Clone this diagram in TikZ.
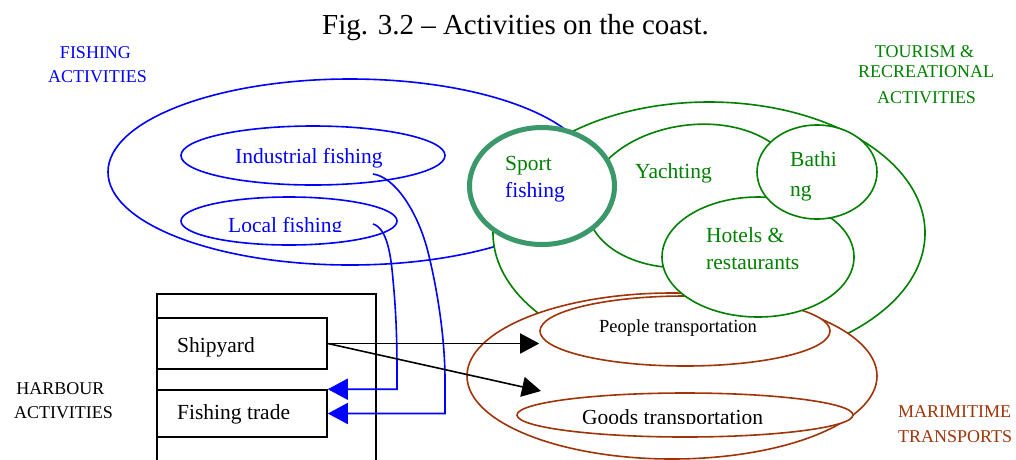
\documentclass[tikz,border=0pt]{standalone}
\usepackage{fontspec}
\setmainfont{Liberation Serif}
\usetikzlibrary{shapes.geometric,arrows.meta,calc}
\definecolor{fishblue}{RGB}{0,0,255}
\definecolor{tourgreen}{RGB}{0,128,0}
\definecolor{sportgreen}{RGB}{58,152,106}
\definecolor{seabrown}{RGB}{160,52,8}
\newcommand\sztitle{\fontsize{29}{32}\selectfont}
\newcommand\szbody{\fontsize{21.5}{24}\selectfont}
\newcommand\szsmall{\fontsize{18.5}{21}\selectfont}
\newcommand\szgroup{\fontsize{18}{21}\selectfont}
\begin{document}
\begin{tikzpicture}[x=1pt,y=-1pt,
  oval/.style={ellipse, draw, inner sep=0pt, line width=1.6pt},
  fishoval/.style={oval, draw=fishblue},
  touroval/.style={oval, draw=tourgreen, fill=white},
  seaoval/.style={oval, draw=seabrown, fill=white},
  sportoval/.style={ellipse, draw=sportgreen, fill=white, inner sep=0pt, line width=5pt},
  harbourbox/.style={draw, line width=1.6pt, minimum width=170, inner sep=0pt},
  txt/.style={inner sep=0pt, anchor=base west, font=\szbody},
  grouptxt/.style={inner sep=0pt, anchor=base, font=\szgroup},
  fisharrow/.style={draw=fishblue, line width=1.6pt, -{Triangle[length=20pt,width=21pt]}},
  blackarrow/.style={draw=black, line width=1.6pt, -{Triangle[length=19pt,width=20pt]}}]
\useasboundingbox (0,0) rectangle (1016,459);

% title
\node[inner sep=0pt, anchor=base, font=\sztitle] (title) at (515.5,34)
  {Fig. 3.2 -- Activities on the coast.};

% fishing activities
\node[fishoval, minimum width=484, minimum height=186] (fishing) at (350,172) {};
\node[fishoval, minimum width=264, minimum height=59] (ind) at (313,155.5) {};
\node[fishoval, minimum width=216, minimum height=48] (loc) at (289,221) {};
\node[txt, text=fishblue] (indtxt) at (235,163) {Industrial fishing};
\begin{scope}
  \clip (150,190) rectangle (400,231.5);
  \node[txt, text=fishblue] (loctxt) at (228,232) {Local fishing};
\end{scope}
\coordinate (indsrc) at (373,174);
\coordinate (locsrc) at (373,224);

% tourism and recreational activities
\node[touroval, minimum width=432, minimum height=262] (tourism) at (709,233) {};
\node[touroval, minimum width=212, minimum height=142, rotate=8] (yacht) at (692,196) {};

% maritime transports
\node[seaoval, minimum width=410, minimum height=166] (maritime) at (672,376) {};
\node[seaoval, minimum width=290, minimum height=70] (ppl) at (685,331) {};
\node[seaoval, minimum width=336, minimum height=44] (goods) at (685,415) {};
\node[txt, font=\szsmall] (ppltxt) at (599,332) {People transportation};
\begin{scope}
  \clip (520,395) rectangle (850,423.5);
  \node[txt] (goodstxt) at (582,424) {Goods transportation};
\end{scope}

\node[touroval, minimum width=192, minimum height=120] (hotels) at (758,257) {};
\node[touroval, minimum width=120, minimum height=94] (bath) at (817,172) {};
\node[sportoval, minimum width=145, minimum height=117] (sport) at (542,186) {};

\node[txt, text=tourgreen] (sporttxt) at (505,170) {Sport};
\node[txt, text=fishblue] (sportfish) at (505,197) {fishing};
\node[txt, text=tourgreen] (yachttxt) at (635,178) {Yachting};
\node[txt, text=tourgreen] (bathtxtA) at (790,166) {Bathi};
\node[txt, text=tourgreen] (bathtxtB) at (790,196) {ng};
\node[txt, text=tourgreen] (hoteltxtA) at (706,242) {Hotels \&};
\node[txt, text=tourgreen] (hoteltxtB) at (706,269) {restaurants};

% harbour activities
\draw[line width=1.6pt] (157,460) |- (376,294) -- (376,460);
\node[harbourbox, minimum height=51] (ship) at (242,343.5) {};
\node[harbourbox, minimum height=47] (trade) at (242,413.5) {};
\node[txt] (shiptxt) at (177,352) {Shipyard};
\node[txt] (tradetxt) at (177,419) {Fishing trade};
\coordinate (goodsin) at (541,391);

% connectors
\draw[fisharrow] (indsrc) .. controls (395,177) and (418,212) .. (428,252)
  .. controls (438,292) and (445,340) .. (445,380) |- (trade.east);
\draw[fisharrow] (locsrc) .. controls (387,228) and (391,255) .. (393,280)
  .. controls (396,310) and (397,340) .. (397,370) |- (trade.north east);
\draw[blackarrow] (ship.east) -- (ship.east -| ppl.west);
\draw[blackarrow] (ship.east) -- (goodsin);

% group captions
\node[grouptxt, text=fishblue] (fishA) at (95.5,58) {FISHING};
\node[grouptxt, text=fishblue] (fishB) at (97.5,82) {ACTIVITIES};
\node[grouptxt, text=tourgreen] (tourA) at (924.5,57) {TOURISM \&};
\node[grouptxt, text=tourgreen] (tourB) at (926,77) {RECREATIONAL};
\node[grouptxt, text=tourgreen] (tourC) at (926.5,103) {ACTIVITIES};
\node[grouptxt] (harbA) at (60.5,394) {HARBOUR};
\node[grouptxt] (harbB) at (63.5,418) {ACTIVITIES};
\node[txt, font=\szgroup, text=seabrown] (seaA) at (898,417) {MARIMITIME};
\node[txt, font=\szgroup, text=seabrown] (seaB) at (898,442) {TRANSPORTS};
\end{tikzpicture}
\end{document}
